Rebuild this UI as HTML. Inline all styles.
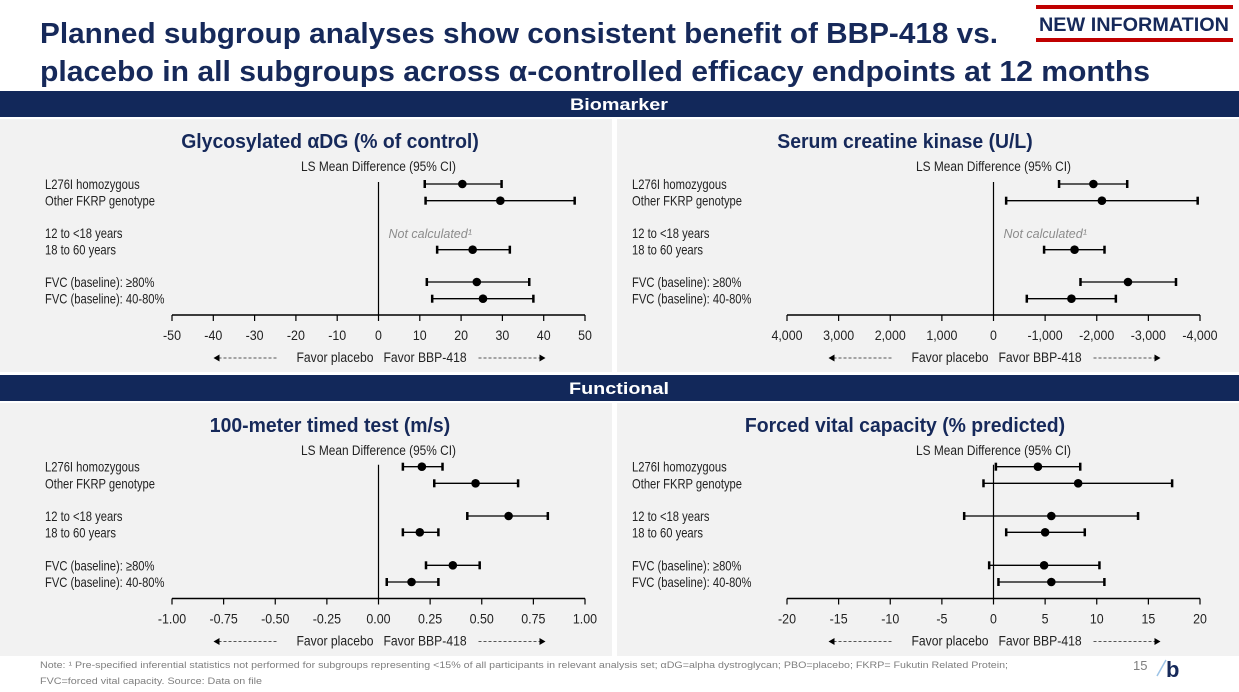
<!DOCTYPE html>
<html><head><meta charset="utf-8"><style>
html,body{margin:0;padding:0;background:#fff;}
svg{display:block;font-family:"Liberation Sans",sans-serif;}
</style></head><body>
<svg id="chart" width="1239" height="692" viewBox="0 0 1239 692" xmlns="http://www.w3.org/2000/svg">
<text x="40" y="43" font-size="29" font-weight="bold" fill="#16295a" textLength="958" lengthAdjust="spacingAndGlyphs">Planned subgroup analyses show consistent benefit of BBP-418 vs.</text>
<text x="40" y="81" font-size="29" font-weight="bold" fill="#16295a" textLength="1110" lengthAdjust="spacingAndGlyphs">placebo in all subgroups across α-controlled efficacy endpoints at 12 months</text>
<g>
<rect x="1036" y="5" width="197" height="4" fill="#c00000"/>
<rect x="1036" y="38" width="197" height="4" fill="#c00000"/>
<text x="1134" y="31" font-size="19" font-weight="bold" fill="#16295a" text-anchor="middle" textLength="190" lengthAdjust="spacingAndGlyphs">NEW INFORMATION</text>
</g>
<rect x="0" y="91" width="1239" height="26" fill="#12285a"/>
<text x="619" y="110" font-size="17" font-weight="bold" fill="#fff" text-anchor="middle" textLength="98" lengthAdjust="spacingAndGlyphs">Biomarker</text>
<rect x="0" y="119" width="612" height="253" fill="#f2f2f2"/>
<rect x="617" y="119" width="622" height="253" fill="#f2f2f2"/>
<rect x="0" y="375" width="1239" height="26" fill="#12285a"/>
<text x="619" y="394" font-size="17" font-weight="bold" fill="#fff" text-anchor="middle" textLength="100" lengthAdjust="spacingAndGlyphs">Functional</text>
<rect x="0" y="403" width="612" height="253" fill="#f2f2f2"/>
<rect x="617" y="403" width="622" height="253" fill="#f2f2f2"/>
<text x="40" y="668" font-size="9" fill="#7f7f7f" textLength="968" lengthAdjust="spacingAndGlyphs">Note: ¹ Pre-specified inferential statistics not performed for subgroups representing &lt;15% of all participants in relevant analysis set; αDG=alpha dystroglycan; PBO=placebo; FKRP= Fukutin Related Protein;</text>
<text x="40" y="684" font-size="9" fill="#7f7f7f" textLength="222" lengthAdjust="spacingAndGlyphs">FVC=forced vital capacity. Source: Data on file</text>
<text x="1133" y="670" font-size="13" fill="#7f7f7f">15</text>
<g><path d="M1157 676 L1166 660" stroke="#9dc3e6" stroke-width="1.5"/><text x="1166" y="677" font-size="22" font-weight="bold" fill="#16295a">b</text></g>
<g id="plots"></g>
</svg>
<script>
const subgroups = ["L276I homozygous","Other FKRP genotype","12 to <18 years","18 to 60 years","FVC (baseline): ≥80%","FVC (baseline): 40-80%"];
const glyPoint = [20.3, 29.5, null, 22.8, 23.8, 25.3];
const glyLow = [11.2, 11.4, null, 14.2, 11.7, 13.0];
const glyHigh = [29.8, 47.5, null, 31.8, 36.5, 37.5];
const glyTicks = [-50,-40,-30,-20,-10,0,10,20,30,40,50];
const ckPoint = [-1935, -2100, null, -1570, -2605, -1510];
const ckLow = [-1270, -245, null, -980, -1685, -645];
const ckHigh = [-2590, -3955, null, -2150, -3535, -2370];
const ckTicks = [4000,3000,2000,1000,0,-1000,-2000,-3000,-4000];
const ckTickLabels = ["4,000","3,000","2,000","1,000","0","-1,000","-2,000","-3,000","-4,000"];
const tt100Point = [0.21, 0.47, 0.63, 0.20, 0.36, 0.16];
const tt100Low = [0.118, 0.27, 0.43, 0.118, 0.23, 0.04];
const tt100High = [0.31, 0.676, 0.82, 0.29, 0.49, 0.29];
const tt100Ticks = [-1,-0.75,-0.5,-0.25,0,0.25,0.5,0.75,1];
const fvcPoint = [4.3, 8.2, 5.6, 5.0, 4.9, 5.6];
const fvcLow = [0.23, -0.97, -2.84, 1.23, -0.42, 0.48];
const fvcHigh = [8.4, 17.3, 14.0, 8.84, 10.26, 10.74];
const fvcTicks = [-20,-15,-10,-5,0,5,10,15,20];

const NS = "http://www.w3.org/2000/svg";
const root = document.getElementById("plots");
function mk(tag, attrs, parent, text){
  const e = document.createElementNS(NS, tag);
  for (const k in attrs) e.setAttribute(k, attrs[k]);
  if (text !== undefined) e.textContent = text;
  parent.appendChild(e);
  return e;
}
function condense(e, f){
  const w = e.getComputedTextLength();
  e.setAttribute("textLength", (w * f).toFixed(1));
  e.setAttribute("lengthAdjust", "spacingAndGlyphs");
}
function panel(cfg){
  const g = mk("g", {}, root);
  
  
  const x0 = cfg.x0, x1 = cfg.x1;
  const xs = v => x0 + (v - cfg.dmin) / (cfg.dmax - cfg.dmin) * (x1 - x0);
  const rowY = cfg.rowY;
  const t = mk("text", {x: cfg.titleX, y: cfg.top + 29, "font-size": 20, "font-weight": "bold", fill: "#16295a", "text-anchor": "middle"}, g, cfg.title);
  
  
  condense(t, 0.97);
  const h = mk("text", {x: xs(0), y: cfg.top + 52, "font-size": 13.5, fill: "#222", "text-anchor": "middle"}, g, "LS Mean Difference (95% CI)");
  
  
  condense(h, 0.88);
  subgroups.forEach((s, i) => {
    const l = mk("text", {x: cfg.labelX, y: rowY[i] + 5, "font-size": 14, fill: "#222"}, g, s);
    
    
    condense(l, 0.8);
  });
  const axisY = cfg.axisY;
  const ax = mk("line", {x1: x0, x2: x1, y1: axisY, y2: axisY, stroke: "#000", "stroke-width": 1.5}, g);
  
  
  const zl = mk("line", {x1: xs(0), x2: xs(0), y1: rowY[0] - 2, y2: axisY, stroke: "#000", "stroke-width": 1.2}, g);
  
  
  cfg.ticks.forEach((v, i) => {
    const x = xs(v);
    mk("line", {x1: x, x2: x, y1: axisY, y2: axisY + 6, stroke: "#000", "stroke-width": 1.2}, g);
    const tl = mk("text", {x: x, y: axisY + 25, "font-size": 13.5, fill: "#222", "text-anchor": "middle"}, g, cfg.tickLabels ? cfg.tickLabels[i] : cfg.fmt(v));
    
    
    condense(tl, 0.92);
  });
  cfg.point.forEach((p, i) => {
    const y = rowY[i];
    if (p === null) {
      const nc = mk("text", {x: xs(0) + 10, y: y + 5, "font-size": 12.5, "font-style": "italic", fill: "#8c8c8c"}, g, "Not calculated¹");
      
      
      return;
    }
    const a = xs(cfg.low[i]), b = xs(cfg.high[i]);
    const ci = mk("g", {}, g);
    
    
    mk("line", {x1: a, x2: b, y1: y, y2: y, stroke: "#000", "stroke-width": 1.3}, ci);
    mk("line", {x1: a, x2: a, y1: y - 4, y2: y + 4, stroke: "#000", "stroke-width": 2.5}, ci);
    mk("line", {x1: b, x2: b, y1: y - 4, y2: y + 4, stroke: "#000", "stroke-width": 2.5}, ci);
    const dot = mk("circle", {cx: xs(p), cy: y, r: 4.3, fill: "#000"}, g);
    
    
  });
  const fy = axisY + 47, zx = xs(0);
  const fp = mk("text", {x: zx - 5, y: fy, "font-size": 13.5, fill: "#222", "text-anchor": "end"}, g, "Favor placebo");
  
  
  condense(fp, 0.9);
  const fb = mk("text", {x: zx + 5, y: fy, "font-size": 13.5, fill: "#222"}, g, "Favor BBP-418");
  
  
  condense(fb, 0.9);
  const ay = fy - 4;
  mk("line", {x1: zx - 160, x2: zx - 100, y1: ay, y2: ay, stroke: "#555", "stroke-width": 1, "stroke-dasharray": "3,2"}, g);
  mk("path", {d: `M${zx-165} ${ay} l6 -3.5 v7 z`, fill: "#000"}, g);
  mk("line", {x1: zx + 100, x2: zx + 161, y1: ay, y2: ay, stroke: "#555", "stroke-width": 1, "stroke-dasharray": "3,2"}, g);
  mk("path", {d: `M${zx+167} ${ay} l-6 -3.5 v7 z`, fill: "#000"}, g);
}
const topRows = [184, 200.7, 233, 249.7, 282, 298.7];
const botRows = [466.7, 483.3, 516, 532.3, 565.3, 582];
panel({name: "glycosylated-adg-panel", title: "Glycosylated αDG (% of control)", titleX: 330, top: 119, labelX: 45, x0: 172, x1: 585, dmin: -50, dmax: 50, rowY: topRows, axisY: 315, ticks: glyTicks, fmt: v => String(v), point: glyPoint, low: glyLow, high: glyHigh});
panel({name: "serum-ck-panel", title: "Serum creatine kinase (U/L)", titleX: 905, top: 119, labelX: 632, x0: 787, x1: 1200, dmin: 4000, dmax: -4000, rowY: topRows, axisY: 315, ticks: ckTicks, tickLabels: ckTickLabels, point: ckPoint, low: ckLow, high: ckHigh});
panel({name: "timed-test-100m-panel", title: "100-meter timed test (m/s)", titleX: 330, top: 403, labelX: 45, x0: 172, x1: 585, dmin: -1, dmax: 1, rowY: botRows, axisY: 598.5, ticks: tt100Ticks, fmt: v => v.toFixed(2), point: tt100Point, low: tt100Low, high: tt100High});
panel({name: "fvc-panel", title: "Forced vital capacity (% predicted)", titleX: 905, top: 403, labelX: 632, x0: 787, x1: 1200, dmin: -20, dmax: 20, rowY: botRows, axisY: 598.5, ticks: fvcTicks, fmt: v => String(v), point: fvcPoint, low: fvcLow, high: fvcHigh});
</script>
</body></html>
